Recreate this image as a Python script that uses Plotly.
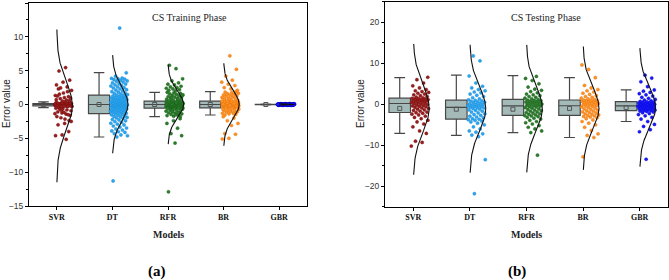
import numpy as np
import plotly.graph_objects as go

models = ["SVR", "DT", "RFR", "BR", "GBR"]
colors = ["#9b1c1c", "#2aa6f2", "#2a7d2a", "#ff9124", "#1a1aff"]
edge_colors = ["#6e0f0f", "#1a86cc", "#1a5c1a", "#e07410", "#0000c8"]

# ---------------- Training phase errors ----------------
svr_train = [0.01, -0.02, 0.03, -0.04, 0.05, -0.06, 0.07, -0.08, 0.09, -0.1, 0.11, -0.12, 0.13, -0.14,
             0.15, -0.16, 0.17, -0.18, 0.19, -0.2, 0.21, -0.22, 0.23, -0.24, 0.25, -0.26, 0.27, -0.28,
             0.0, -0.01, 0.02, -0.03, 0.04, -0.05, 0.06, -0.07, 0.08, -0.09, 0.1, -0.11, 0.12, -0.13,
             0.14, -0.15, 0.16, -0.17, 0.18, -0.19, 0.2, -0.21, 0.22, -0.23, -0.25, -0.27, -0.29, -0.3,
             0.42, -0.48, 0.57, -0.63, 0.71, -0.78, 0.86, -0.92, 1.02, -1.08, 1.17, -1.24, 1.33, -1.41,
             1.52, -1.6, 1.7, -1.78, 1.9, -1.96, 2.08, -2.15, 2.3, -2.37, 0.5, -0.55, 0.65, -0.72,
             0.95, -1.15, 1.25, -1.5, -0.85, -1.35,
             5.45, 4.95, 3.6, 3.3, 2.9, 2.6, 2.45, -2.5, -2.8, -3.0, -4.0, -4.5, -4.6, -5.15]
dt_train = [-4.8, -4.62, -4.5, -4.31, -4.12, -4.03, -3.91, -3.78, -3.62, -3.47, -3.33, -3.18, -3.02, -2.91,
            -2.77, -2.63, -2.52, -2.41, -2.28, -2.2, -2.08, -1.99, -1.91, -1.84, -1.76, -1.69, -1.6, -1.53,
            -1.46, -1.4, -1.31, -1.26, -1.19, -1.14, -1.09, -1.03, -0.98, -0.94, -0.88, -0.83, -0.78,
            -0.74, -0.69, -0.63, -0.58, -0.54, -0.49, -0.44, -0.4, -0.35, -0.29, -0.26, -0.21, -0.17,
            -0.14, -0.11, -0.09, -0.06, -0.04, -0.01, 0.02, 0.06, 0.08, 0.11, 0.14, 0.17, 0.21, 0.23,
            0.29, 0.33, 0.37, 0.41, 0.44, 0.51, 0.56, 0.59, 0.66, 0.71, 0.74, 0.81, 0.86, 0.89, 0.96,
            1.01, 1.06, 1.12, 1.17, 1.24, 1.31, 1.38, 1.46, 1.52, 1.61, 1.69, 1.82, 1.9, 1.98, 2.12,
            2.19, 2.31, 2.42, 2.48, 2.61, 2.72, 2.79, 2.91, 3.02, 3.08, 3.19, 3.31, 3.42, 3.49, 3.58,
            3.68, 3.74, 3.79, 3.86, 3.91, 4.18, 4.68, 11.3, -11.3]
rfr_train = [-0.54, -0.52, -0.5, -0.48, -0.46, -0.44, -0.42, -0.4, -0.38, -0.36, -0.34, -0.32, -0.3,
             -0.28, -0.26, -0.24, -0.22, -0.2, -0.18, -0.16, -0.14, -0.12, -0.1, -0.08, -0.06, -0.04,
             -0.02, 0.0, 0.01, 0.03, 0.05, 0.07, 0.09, 0.11, 0.13, 0.15, 0.17, 0.19, 0.21, 0.23, 0.25,
             0.27, 0.29, 0.31, 0.33, 0.35, 0.37, 0.39, 0.41, 0.43, 0.45, 0.47, 0.49, -0.53, -0.49,
             -0.45, 0.02, 0.12, 0.22, 0.32,
             -1.8, -1.72, -1.64, -1.55, -1.47, -1.38, -1.3, -1.22, -1.14, -1.06, -0.98, -0.9, -0.82,
             -0.74, -0.67, -0.6, -1.25, -0.95, -0.7, -1.5, 0.55, 0.62, 0.7, 0.78, 0.86, 0.94, 1.02,
             1.1, 1.18, 1.26, 1.34, 1.42, 1.5, 1.58, 1.66, 1.74, 1.8, 0.8, 1.05, 1.3,
             2.0, 2.1, 2.2, 2.3, 2.4, 2.5, 2.6, 2.7, 2.9, 3.0, 3.2, 3.5, 3.8, 5.3, 5.8,
             -2.1, -2.4, -2.8, -3.5, -4.3, -4.6, -5.7, -12.9]
br_train = [-0.5, -0.47, -0.45, -0.43, -0.41, -0.39, -0.37, -0.35, -0.33, -0.31, -0.29, -0.27, -0.25,
            -0.23, -0.21, -0.19, -0.17, -0.15, -0.13, -0.11, -0.09, -0.07, -0.05, -0.03, -0.01, 0.0,
            0.01, 0.03, 0.05, 0.07, 0.09, 0.11, 0.13, 0.15, 0.17, 0.19, 0.21, 0.23, 0.25, 0.27, 0.29,
            0.31, 0.33, 0.35, 0.37, 0.39, 0.41, 0.43, 0.45, 0.47, 0.49, -0.44, -0.34, -0.24, -0.14,
            0.04, 0.14, 0.24, 0.34, 0.44,
            -1.55, -1.46, -1.38, -1.3, -1.22, -1.14, -1.06, -0.98, -0.9, -0.83, -0.76, -0.69, -0.62,
            -0.56, -1.18, -0.94, -0.72, -1.34,
            0.56, 0.63, 0.71, 0.79, 0.87, 0.95, 1.03, 1.11, 1.19, 1.27, 1.35, 1.43, 1.51, 1.59, 1.67,
            1.75, 1.83, 1.9, 0.82, 1.07, 1.31, 1.55,
            2.1, 2.3, 2.5, 2.8, 3.0, 3.3, 3.6, 4.2, 5.2, 7.2,
            -1.8, -2.0, -2.4, -2.8, -3.1, -4.3, -4.4, -5.0, -5.1]
gbr_train = [0.0, 0.01, -0.01, 0.02, -0.02, 0.03, -0.03, 0.04, -0.04, 0.05, -0.05, 0.06, -0.06, 0.07,
             -0.07, 0.08, -0.08, 0.09, -0.09, 0.1, -0.1, 0.11, -0.11, 0.12, -0.12, 0.0, 0.01, -0.01,
             0.02, -0.02, 0.03, -0.03, 0.04, -0.04, 0.05, -0.05, 0.06, -0.06, 0.07, -0.07, 0.08, -0.08,
             0.0, 0.01, -0.01, 0.02, -0.02, 0.03, -0.03, 0.04, -0.04, 0.05, -0.05, 0.0, 0.01, -0.01,
             0.02, -0.02, 0.03, -0.03, 0.0, 0.01, -0.01, 0.02, -0.02, 0.0, 0.015, -0.015, 0.025,
             -0.025, 0.035, -0.035, 0.045, -0.045, 0.055, -0.055, 0.065, -0.065, 0.075, -0.075, 0.085,
             -0.085, 0.095, -0.095, 0.005, -0.005, 0.0, 0.01, -0.01, 0.02, -0.02, 0.0, 0.03, -0.03,
             0.0, 0.01, -0.01, 0.0, 0.005, -0.005]

# ---------------- Testing phase errors ----------------
svr_test = [-10.2, -9.3, -9.0, -7.1, -6.5, -5.5, -4.8, -4.3, -3.9, -3.5, -3.2, -2.9, -2.6, -2.4, -2.2,
            -2.05, -1.9, -1.7, -1.5, -1.35, -1.2, -1.05, -0.9, -0.75, -0.6, -0.5, -0.4, -0.3, -0.15,
            -0.05, 0.05, 0.15, 0.25, 0.35, 0.45, 0.55, 0.65, 0.75, 0.85, 0.95, 1.0, 1.1, 1.15, 1.2,
            1.3, 1.35, 1.4, 1.45, 1.6, 1.75, 1.9, 2.1, 2.3, 2.5, 2.7, 2.9, 3.1, 3.3, 3.6, 4.0, 4.5,
            5.2, 6.0, 6.6]
dt_test = [-21.8, -13.5, -7.9, -7.5, -7.2, -6.8, -6.5, -6.0, -5.5, -5.0, -4.6, -4.3, -4.1, -3.9, -3.75,
           -3.65, -3.5, -3.3, -3.1, -2.9, -2.7, -2.5, -2.3, -2.1, -1.9, -1.7, -1.5, -1.35, -1.2, -1.05,
           -0.9, -0.8, -0.7, -0.6, -0.5, -0.4, -0.3, -0.2, -0.1, 0.0, 0.1, 0.25, 0.4, 0.5, 0.6, 0.75,
           0.85, 0.95, 1.1, 1.3, 1.6, 1.9, 2.2, 2.5, 2.8, 3.0, 3.3, 3.6, 4.0, 4.4, 5.2, 6.9, 10.6, 11.8]
rfr_test = [-12.4, -6.9, -6.5, -6.0, -5.6, -5.2, -4.8, -4.5, -4.2, -3.9, -3.6, -3.4, -3.2, -3.0, -2.85,
            -2.75, -2.6, -2.45, -2.3, -2.15, -2.0, -1.85, -1.7, -1.55, -1.4, -1.25, -1.1, -0.95, -0.8,
            -0.65, -0.55, -0.45, -0.35, -0.25, -0.15, -0.05, 0.05, 0.15, 0.25, 0.35, 0.45, 0.55, 0.65,
            0.75, 0.85, 0.95, 1.05, 1.15, 1.3, 1.5, 1.7, 1.9, 2.1, 2.3, 2.5, 2.8, 3.1, 3.4, 3.7, 4.2,
            5.0, 5.8, 6.3, 6.8]
br_test = [-12.8, -8.1, -7.6, -7.2, -6.4, -5.6, -5.0, -4.6, -4.2, -3.8, -3.5, -3.3, -3.1, -2.95, -2.85,
           -2.75, -2.6, -2.45, -2.3, -2.15, -2.0, -1.85, -1.7, -1.55, -1.4, -1.25, -1.1, -0.95, -0.8,
           -0.65, -0.5, -0.4, -0.3, -0.2, -0.1, 0.0, 0.1, 0.2, 0.3, 0.4, 0.5, 0.6, 0.7, 0.8, 0.85, 0.9,
           0.95, 1.0, 1.15, 1.3, 1.5, 1.7, 1.9, 2.1, 2.4, 2.7, 3.0, 3.3, 3.6, 4.0, 4.6, 6.5, 8.5, 9.6]
gbr_test = [-13.4, -6.7, -6.2, -5.4, -4.9, -4.2, -3.6, -3.2, -2.8, -2.5, -2.25, -2.05, -1.9, -1.75, -1.65,
            -1.58, -1.5, -1.42, -1.35, -1.28, -1.2, -1.12, -1.05, -0.98, -0.9, -0.82, -0.75, -0.68, -0.6,
            -0.54, -0.48, -0.43, -0.36, -0.3, -0.24, -0.18, -0.12, -0.06, 0.0, 0.06, 0.12, 0.18, 0.25,
            0.32, 0.4, 0.48, 0.55, 0.62, 0.72, 0.85, 1.0, 1.2, 1.45, 1.7, 2.0, 2.3, 2.6, 2.9, 3.2, 3.5,
            4.3, 5.5, 6.4, 7.1]

train_data = [svr_train, dt_train, rfr_train, br_train, gbr_train]
test_data = [svr_test, dt_test, rfr_test, br_test, gbr_test]

# Box statistics
train_q1 = [-0.2, -1.35, -0.55, -0.5, -0.03]
train_med = [0.0, 0.0, 0.0, 0.0, 0.0]
train_q3 = [0.15, 1.4, 0.5, 0.5, 0.03]
train_lo = [-0.45, -4.8, -1.8, -1.55, -0.06]
train_hi = [0.38, 4.7, 1.8, 1.9, 0.06]
train_mean = [0.0, 0.0, 0.0, 0.0, 0.0]

test_q1 = [-2.0, -3.6, -2.7, -2.7, -1.55]
test_med = [0.2, -0.75, -0.4, -0.35, -0.4]
test_q3 = [1.5, 1.0, 1.2, 1.05, 0.65]
test_lo = [-7.1, -7.6, -6.9, -8.1, -4.2]
test_hi = [6.5, 7.1, 7.0, 6.5, 3.5]
test_mean = [-1.0, -1.2, -1.2, -1.0, -0.8]

# Normal distribution curves (mean, sd, drawn range)
train_mu = [-0.2, 0.05, 0.0, 0.0, 0.0]
train_sd = [3.6, 2.5, 2.0, 2.1, 0.04]
train_clo = [-11.5, -7.2, -5.85, -6.1, -0.12]
train_chi = [11.1, 7.3, 5.9, 6.1, 0.12]

test_mu = [-1.0, -1.1, -1.05, -0.95, -0.75]
test_sd = [5.8, 5.4, 5.4, 5.2, 5.0]
test_clo = [-17.2, -16.7, -16.6, -16.0, -15.2]
test_chi = [14.7, 14.5, 14.5, 14.1, 13.7]

W, H = 669, 280
BOX_OFF = -0.24
BOX_W = 0.38
CURVE_AMP = 0.28
SERIF = "Liberation Serif, Times New Roman, serif"
SANS = "Liberation Sans, Arial, sans-serif"

fig = go.Figure()


def add_panel(xa, ya, data, q1, med, q3, lo, hi, mean, mu, sd, clo, chi):
    pos = [i + BOX_OFF for i in range(len(models))]
    fig.add_trace(go.Box(
        x=pos, q1=q1, median=med, q3=q3, lowerfence=lo, upperfence=hi,
        width=BOX_W, whiskerwidth=0.5, fillcolor="#a3bab8",
        line=dict(color="#474747", width=1.2), boxpoints=False,
        xaxis=xa, yaxis=ya, showlegend=False, hoverinfo="skip"))
    fig.add_trace(go.Scatter(
        x=pos, y=mean, mode="markers", xaxis=xa, yaxis=ya, showlegend=False,
        marker=dict(symbol="square-open", size=4, color="#555555", line=dict(width=1)),
        hoverinfo="skip"))
    for i, vals in enumerate(data):
        n = len(vals)
        k = np.arange(n)
        off = -0.035 + 0.31 * ((k * 0.6180339887 + 0.37 * i) % 1.0)
        fig.add_trace(go.Scatter(
            x=i + off, y=vals, mode="markers", xaxis=xa, yaxis=ya, showlegend=False,
            marker=dict(size=3.2, color=colors[i], line=dict(width=0.4, color=edge_colors[i])),
            hoverinfo="skip"))
    for i in range(len(models)):
        ys = np.linspace(clo[i], chi[i], 300)
        xs = i + CURVE_AMP * np.exp(-0.5 * ((ys - mu[i]) / sd[i]) ** 2)
        fig.add_trace(go.Scatter(
            x=xs, y=ys, mode="lines", xaxis=xa, yaxis=ya, showlegend=False,
            line=dict(color="#111111", width=1.1), hoverinfo="skip"))


add_panel("x", "y", train_data, train_q1, train_med, train_q3, train_lo, train_hi, train_mean,
          train_mu, train_sd, train_clo, train_chi)
add_panel("x2", "y2", test_data, test_q1, test_med, test_q3, test_lo, test_hi, test_mean,
          test_mu, test_sd, test_clo, test_chi)

xcommon = dict(range=[-0.5, 4.5], tickvals=list(range(5)),
               ticktext=["<b>%s</b>" % m for m in models],
               tickfont=dict(family=SERIF, size=8, color="#111"),
               ticks="outside", ticklen=3, tickcolor="#000",
               showline=True, linecolor="#000", linewidth=1, mirror=True,
               showgrid=False, zeroline=False, automargin=False)
ycommon = dict(ticks="outside", ticklen=3, tickcolor="#000",
               tickfont=dict(family=SANS, size=8.5, color="#333"),
               showline=True, linecolor="#000", linewidth=1, mirror=True,
               showgrid=False, zeroline=False, automargin=False)

fig.update_layout(
    template="none",
    width=W, height=H, autosize=False,
    margin=dict(l=0, r=0, t=0, b=0),
    paper_bgcolor="white", plot_bgcolor="white",
    showlegend=False,
    xaxis=dict(domain=[29 / W, 307 / W], anchor="y", **xcommon),
    yaxis=dict(domain=[1 - 206 / H, 1 - 3 / H], anchor="x", range=[-15, 15],
               tickvals=[-15, -10, -5, 0, 5, 10, 15],
               minor=dict(ticks="outside", ticklen=2, dtick=2.5, tickcolor="#000"), **ycommon),
    xaxis2=dict(domain=[385 / W, 668 / W], anchor="y2", **xcommon),
    yaxis2=dict(domain=[1 - 206.8 / H, 1 - 1.8 / H], anchor="x2", range=[-25, 25],
                tickvals=[-20, -10, 0, 10, 20],
                minor=dict(ticks="outside", ticklen=2, dtick=5, tickcolor="#000"), **ycommon),
)

ann = [
    dict(text="CS Training Phase", x=189 / W, y=1 - 17 / H, font=dict(family=SERIF, size=10, color="#222")),
    dict(text="CS Testing Phase", x=545.7 / W, y=1 - 17 / H, font=dict(family=SERIF, size=10, color="#222")),
    dict(text="Error value", x=6 / W, y=1 - 104 / H, textangle=-90, font=dict(family=SANS, size=10, color="#222")),
    dict(text="Error value", x=360 / W, y=1 - 104 / H, textangle=-90, font=dict(family=SANS, size=10, color="#222")),
    dict(text="<b>Models</b>", x=168 / W, y=1 - 234 / H, font=dict(family=SERIF, size=10, color="#222")),
    dict(text="<b>Models</b>", x=526.5 / W, y=1 - 234 / H, font=dict(family=SERIF, size=10, color="#222")),
    dict(text="<b>(a)</b>", x=157 / W, y=1 - 271 / H, font=dict(family=SERIF, size=15, color="#000")),
    dict(text="<b>(b)</b>", x=517 / W, y=1 - 271 / H, font=dict(family=SERIF, size=15, color="#000")),
]
for a in ann:
    a.update(xref="paper", yref="paper", showarrow=False, xanchor="center", yanchor="middle")
fig.update_layout(annotations=ann)

fig.write_html("out.html", config={"displayModeBar": False},
               post_script="document.body.style.margin='0';document.body.style.overflow='hidden';")
